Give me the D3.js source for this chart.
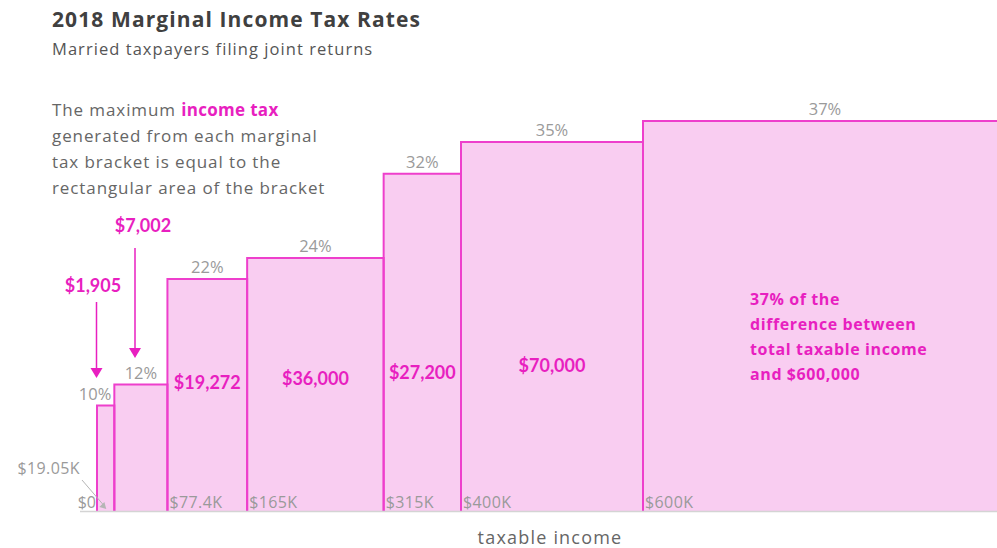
<!DOCTYPE html>
<html>
<head>
<meta charset="utf-8">
<script src="https://cdn.jsdelivr.net/npm/d3@7"></script>
<style>
  body { margin: 0; background: #fff; }
  svg { display: block; font-family: "Open Sans", Lato, sans-serif; }
</style>
</head>
<body>
<svg id="chart"></svg>
<script>
// bracket lower bounds (in $), rates (%), tax generated in each bracket
var bracketStart = [0, 19050, 77400, 165000, 315000, 400000, 600000];
var bracketEnd   = [19050, 77400, 165000, 315000, 400000, 600000, 1000000];
var rates        = [10, 12, 22, 24, 32, 35, 37];
var taxLabels    = ["$1,905", "$7,002", "$19,272", "$36,000", "$27,200", "$70,000", null];
var tickLabels   = ["$0", "$19.05K", "$77.4K", "$165K", "$315K", "$400K", "$600K"];
var noteLines    = ["37% of the", "difference between", "total taxable income", "and $600,000"];

var width = 997, height = 548;
var pink = "#ee3fcc", fill = "#f9cdf1", magenta = "#e81fc0", grey = "#9a9a9a";

var svg = d3.select("#chart").attr("width", width).attr("height", height);

var x = d3.scaleLinear().domain([0, 600000]).range([97, 643]);
var y = d3.scaleLinear().domain([0, 37]).range([511, 121]);

var data = rates.map(function(r, i) {
  return { rate: r, x0: bracketStart[i], x1: bracketEnd[i], tax: taxLabels[i], tick: tickLabels[i] };
});

// titles
svg.append("text").attr("x", 52).attr("y", 27)
  .attr("font-size", 21).attr("font-weight", 700).attr("fill", "#404040")
  .attr("letter-spacing", 1.1)
  .text("2018 Marginal Income Tax Rates");
svg.append("text").attr("x", 52).attr("y", 55)
  .attr("font-size", 16.5).attr("fill", "#555")
  .attr("letter-spacing", 1.05)
  .text("Married taxpayers filing joint returns");

// explanation paragraph
var para = svg.append("text").attr("x", 52).attr("y", 116)
  .attr("font-size", 17).attr("fill", "#666").attr("letter-spacing", 0.9);
para.append("tspan").text("The maximum ");
para.append("tspan").attr("font-weight", 700).attr("fill", magenta).attr("letter-spacing", 0.3).text("income tax");
["generated from each marginal", "tax bracket is equal to the", "rectangular area of the bracket"]
  .forEach(function(t) {
    para.append("tspan").attr("x", 52).attr("dy", 26).text(t);
  });

// bars: fill plus outline on left, top and right
svg.selectAll("rect.bar")
  .data(data)
  .enter().append("rect")
  .attr("class", "bar")
  .attr("x", function(d) { return x(d.x0); })
  .attr("y", function(d) { return y(d.rate); })
  .attr("width", function(d) { return x(d.x1) - x(d.x0); })
  .attr("height", function(d) { return y(0) - y(d.rate); })
  .attr("fill", fill);

svg.selectAll("path.outline")
  .data(data)
  .enter().append("path")
  .attr("class", "outline")
  .attr("d", function(d) {
    return "M" + x(d.x0) + "," + y(0) + "V" + y(d.rate) + "H" + x(d.x1) + "V" + y(0);
  })
  .attr("fill", "none")
  .attr("stroke", pink)
  .attr("stroke-width", 2);

// baseline
svg.append("line")
  .attr("x1", 80).attr("x2", width)
  .attr("y1", y(0) + 0.5).attr("y2", y(0) + 0.5)
  .attr("stroke", "#d4d4d4").attr("stroke-width", 1.5);

// rate labels above bars
svg.selectAll("text.rate")
  .data(data)
  .enter().append("text")
  .attr("class", "rate")
  .attr("x", function(d, i) { return i === 0 ? x(d.x1) - 3 : (x(d.x0) + Math.min(x(d.x1), width + 10)) / 2; })
  .attr("y", function(d) { return y(d.rate) - 6; })
  .attr("text-anchor", function(d, i) { return i === 0 ? "end" : "middle"; })
  .attr("font-size", 16.5).attr("fill", grey)
  .text(function(d) { return d.rate + "%"; });

// bracket tick labels inside bars at bottom
svg.selectAll("text.tick")
  .data(data.filter(function(d, i) { return i > 1; }))
  .enter().append("text")
  .attr("class", "tick")
  .attr("x", function(d) { return x(d.x0) + 2; })
  .attr("y", y(0) - 3)
  .attr("font-size", 16).attr("letter-spacing", 0.4).attr("fill", grey)
  .text(function(d) { return d.tick; });

svg.append("text").attr("x", x(0) - 1).attr("y", y(0) - 3)
  .attr("text-anchor", "end").attr("font-size", 16).attr("fill", grey)
  .text(tickLabels[0]);
svg.append("text").attr("x", 80).attr("y", 474)
  .attr("text-anchor", "end").attr("font-size", 16).attr("letter-spacing", 0.4).attr("fill", grey)
  .text(tickLabels[1]);
svg.append("line")
  .attr("x1", 82).attr("y1", 480).attr("x2", x(bracketStart[1]) - 10).attr("y2", y(0) - 5)
  .attr("stroke", "#b5b5b5").attr("stroke-width", 1);
svg.append("path")
  .attr("d", d3.symbol(d3.symbolTriangle, 22)())
  .attr("transform", "translate(" + (x(bracketStart[1]) - 11) + "," + (y(0) - 5) + ") rotate(135)")
  .attr("fill", "#b5b5b5");

// tax amounts inside the larger bars
var taxDy = [0, 4, 10, 17];
svg.selectAll("text.tax")
  .data(data.filter(function(d, i) { return i > 1 && d.tax; }))
  .enter().append("text")
  .attr("class", "tax")
  .attr("x", function(d) { return (x(d.x0) + x(d.x1)) / 2; })
  .attr("y", function(d, i) { return 389 - taxDy[i]; })
  .attr("text-anchor", "middle")
  .attr("font-family", "Lato, sans-serif")
  .attr("font-size", 18).attr("font-weight", 700).attr("fill", magenta)
  .text(function(d) { return d.tax; });

// tax amounts with arrows for the two narrow bars
var arrows = [
  { label: taxLabels[0], lx: 93, ly: 292, ax: 96.5, y1: 302, y2: 378 },
  { label: taxLabels[1], lx: 143, ly: 232, ax: 135, y1: 248, y2: 358 }
];
arrows.forEach(function(a) {
  svg.append("text").attr("x", a.lx).attr("y", a.ly)
    .attr("text-anchor", "middle").attr("font-family", "Lato, sans-serif")
    .attr("font-size", 18).attr("font-weight", 700)
    .attr("fill", magenta).text(a.label);
  svg.append("line").attr("x1", a.ax).attr("x2", a.ax).attr("y1", a.y1).attr("y2", a.y2 - 8)
    .attr("stroke", magenta).attr("stroke-width", 1.5);
  svg.append("path")
    .attr("d", "M" + (a.ax - 6) + "," + (a.y2 - 10) + "L" + (a.ax + 6) + "," + (a.y2 - 10) + "L" + a.ax + "," + a.y2 + "Z")
    .attr("fill", magenta);
});

// note in the top bracket
var note = svg.append("text").attr("x", 750).attr("y", 305)
  .attr("font-size", 16).attr("font-weight", 700).attr("fill", magenta).attr("letter-spacing", 0.6);
noteLines.forEach(function(t, i) {
  note.append("tspan").attr("x", 750).attr("dy", i ? 25 : 0).text(t);
});

// x axis title
svg.append("text").attr("x", 550).attr("y", 544)
  .attr("text-anchor", "middle").attr("font-size", 18).attr("fill", "#666")
  .attr("letter-spacing", 1.2)
  .text("taxable income");
</script>
</body>
</html>
